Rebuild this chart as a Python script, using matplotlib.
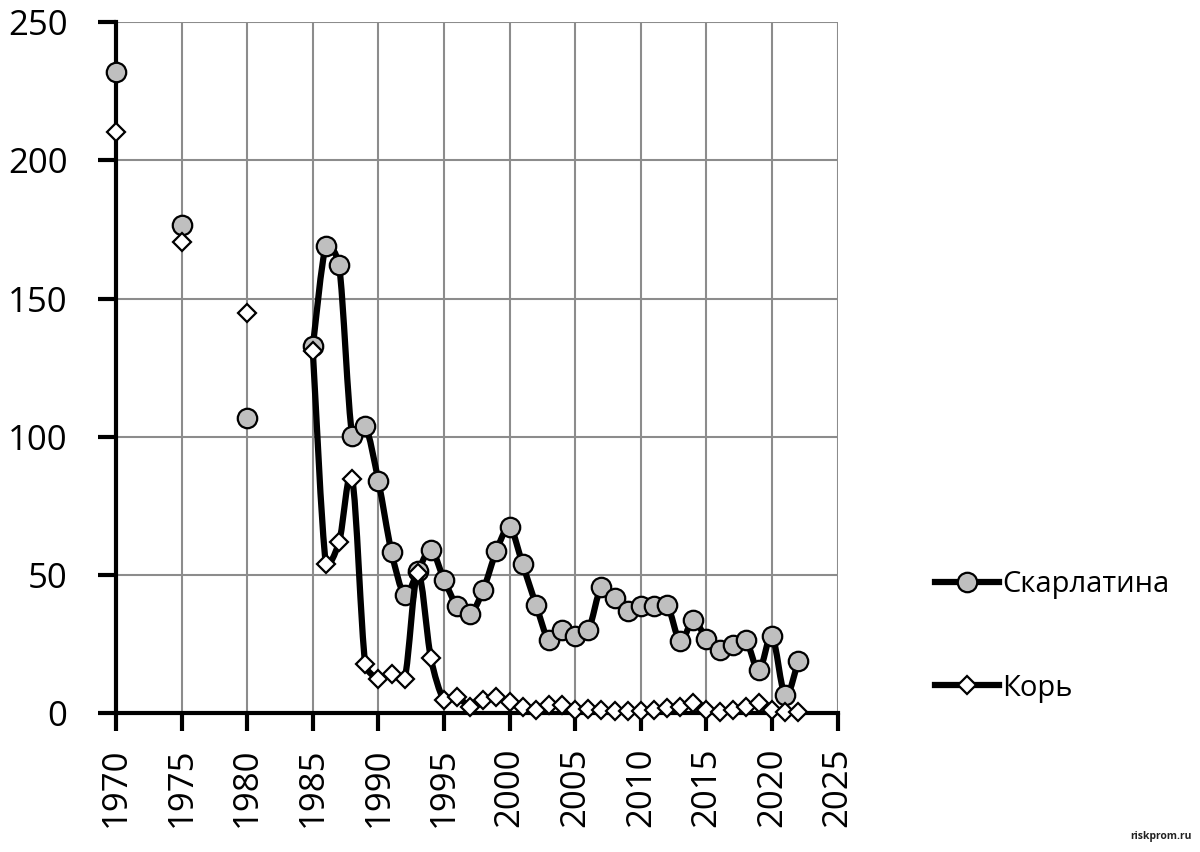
import numpy as np
import matplotlib.pyplot as plt
from matplotlib.path import Path
from matplotlib.patches import PathPatch
from matplotlib.lines import Line2D

plt.rcParams['font.family'] = ['Open Sans', 'DejaVu Sans']

years_early = [1970, 1975, 1980]
scarlet_early = [231.9, 176.7, 106.8]
measles_early = [210.4, 170.6, 144.8]

years = list(range(1985, 2023))
scarlet = [132.7, 169.1, 162.2, 100.4, 103.8, 83.9, 58.3, 42.9, 51.3, 59.2,
           48.3, 38.7, 35.7, 44.7, 58.8, 67.2, 53.8, 39.3, 26.4, 29.9,
           27.8, 29.9, 45.7, 41.5, 36.9, 38.9, 38.7, 39.3, 26.0, 33.6,
           26.9, 22.8, 24.6, 26.4, 15.5, 27.8, 6.4, 18.8]
measles = [130.9, 53.8, 61.8, 84.7, 17.6, 12.4, 14.0, 12.4, 50.8, 19.8,
           4.7, 5.9, 2.3, 4.7, 5.9, 4.0, 2.3, 1.3, 3.1, 2.8,
           1.1, 1.5, 1.1, 0.8, 0.6, 0.8, 1.2, 2.0, 2.3, 3.8,
           1.0, 0.5, 1.0, 2.3, 3.5, 1.0, 0.3, 0.3]

names = ['Скарлатина', 'Корь']
font_tick = 25
font_legend = 21


def smooth_path(ax, x, y, cap=0.35):
    # catmull-rom bezier worked out in pixels; handles capped by the segment
    # length so short steps don't overshoot
    pts = ax.transData.transform(np.column_stack([x, y]))
    n = len(pts)
    tang = [(pts[min(i + 1, n - 1)] - pts[max(i - 1, 0)]) / 6 for i in range(n)]
    verts = [pts[0]]
    codes = [Path.MOVETO]
    for i in range(n - 1):
        L = np.hypot(*(pts[i + 1] - pts[i])) * cap
        h = []
        for tv in (tang[i], tang[i + 1]):
            m = np.hypot(*tv)
            h.append(tv * min(1, L / m) if m > 0 else tv)
        verts += [pts[i] + h[0], pts[i + 1] - h[1], pts[i + 1]]
        codes += [Path.CURVE4] * 3
    verts = ax.transData.inverted().transform(np.array(verts))
    return Path(verts, codes)


fig = plt.figure(figsize=(12, 8.52), dpi=100)
ax = fig.add_axes([0.0967, 0.163, 0.6013, 0.811])
ax.set_xlim(1970, 2025)
ax.set_ylim(0, 250)

series = [(scarlet_early, scarlet, 'o', 14, '#bfbfbf'),
          (measles_early, measles, 'D', 9, 'white')]
handles = []
for k, (early, vals, mk, ms, fc) in enumerate(series):
    z = 3 + 2 * k
    ax.add_patch(PathPatch(smooth_path(ax, years, vals), facecolor='none',
                           edgecolor='black', linewidth=4.5, zorder=z,
                           capstyle='round', joinstyle='round'))
    ax.plot(years_early + years, early + vals, linestyle='none', marker=mk,
            markersize=ms, markerfacecolor=fc, markeredgecolor='black',
            markeredgewidth=1.6, zorder=z + 1, clip_on=False)
    handles.append(Line2D([], [], color='black', linewidth=4.5, marker=mk,
                          markersize=ms, markerfacecolor=fc,
                          markeredgecolor='black', markeredgewidth=1.6))

ax.set_xticks(range(1970, 2026, 5))
ax.set_yticks(range(0, 251, 50))
ax.grid(True, color='#8c8c8c', linewidth=1.5)
ax.set_axisbelow(True)
for s in ['top', 'right']:
    ax.spines[s].set_visible(False)
for s in ['left', 'bottom']:
    ax.spines[s].set_linewidth(3)
ax.tick_params(axis='both', direction='out', length=13, width=3,
               labelsize=font_tick)
ax.tick_params(axis='y', pad=22)
ax.tick_params(axis='x', pad=12, labelrotation=90)

fig.legend(handles, names, loc='upper left', bbox_to_anchor=(0.7575, 0.3615),
           frameon=False, fontsize=font_legend, handlelength=2.2,
           handletextpad=0.1, labelspacing=2.55)

fig.text(0.993, 0.012, 'riskprom.ru', fontsize=7.5, fontweight='bold',
         ha='right', va='bottom', color='#222222')

fig.savefig('out.png', dpi=100)
